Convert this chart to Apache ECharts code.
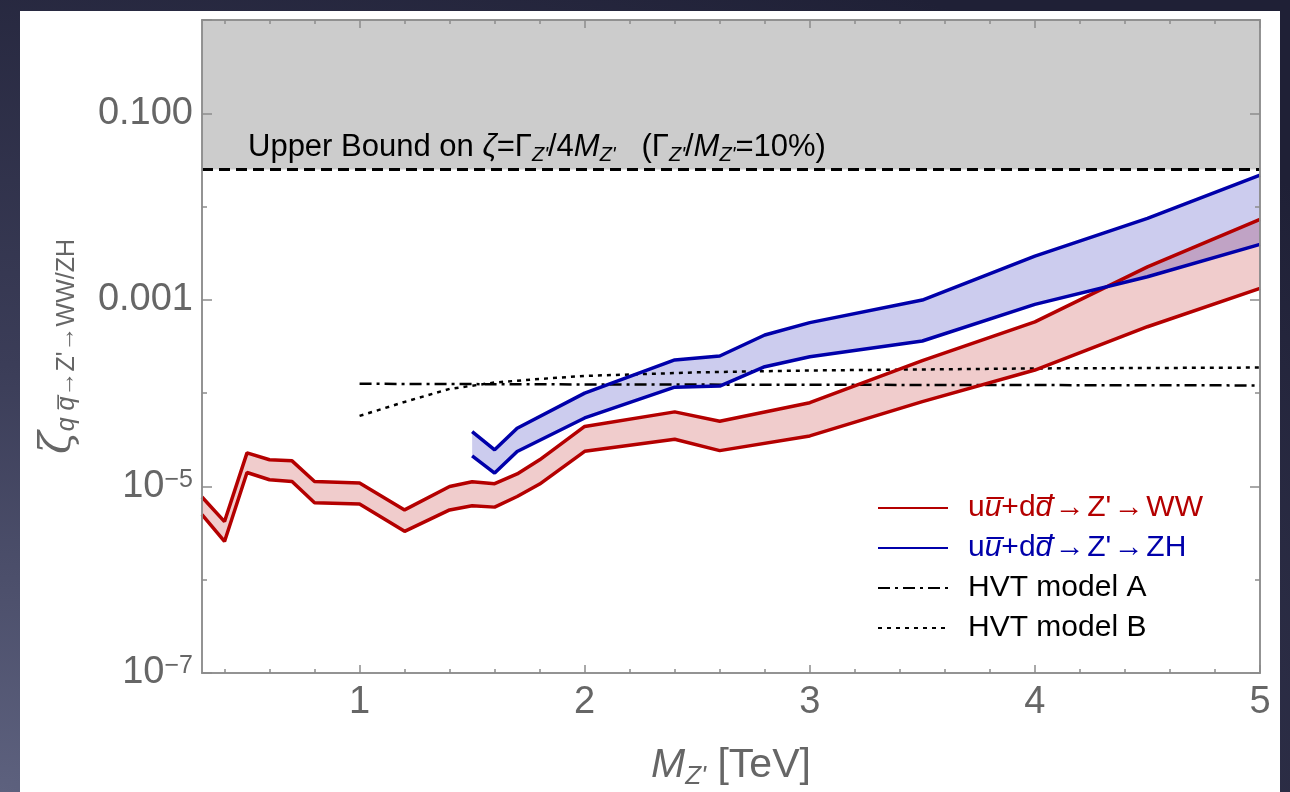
<!DOCTYPE html>
<html><head><meta charset="utf-8">
<script src="https://cdn.jsdelivr.net/npm/echarts@6/dist/echarts.min.js"></script>
<style>
html,body{margin:0;padding:0;width:1290px;height:792px;overflow:hidden;
background: radial-gradient(ellipse 130% 120% at 0% 100%, #5d617e 0%, #3b3d58 45%, #1f2036 100%);}
#chart{position:absolute;left:0;top:0;width:1290px;height:792px;}
</style></head><body><div id="chart"></div>
<script>
// ---- data ----
const massWW  = [0.3, 0.4, 0.5, 0.6, 0.7, 0.8, 1.0, 1.2, 1.4, 1.5, 1.6, 1.7, 1.8, 2.0, 2.4, 2.6, 3.0, 3.5, 4.0, 4.5, 5.0];
const wwUpper = [7.7e-6, 4.2e-6, 2.29e-5, 1.93e-5, 1.88e-5, 1.13e-5, 1.09e-5, 5.6e-6, 1.0e-5, 1.12e-5, 1.07e-5, 1.36e-5, 1.93e-5, 4.4e-5, 6.3e-5, 5.0e-5, 7.9e-5, 2.23e-4, 5.8e-4, 2.26e-3, 7.3e-3];
const wwLower = [5.0e-6, 2.57e-6, 1.41e-5, 1.18e-5, 1.13e-5, 6.7e-6, 6.5e-6, 3.3e-6, 5.6e-6, 6.2e-6, 6.0e-6, 7.8e-6, 1.06e-5, 2.38e-5, 3.2e-5, 2.42e-5, 3.48e-5, 8.1e-5, 1.77e-4, 5.15e-4, 1.33e-3];

const massZH  = [1.5, 1.6, 1.7, 2.0, 2.4, 2.6, 2.8, 3.0, 3.5, 4.0, 4.5, 5.0];
const zhUpper = [3.87e-5, 2.47e-5, 4.21e-5, 1.0e-4, 2.27e-4, 2.5e-4, 4.2e-4, 5.7e-4, 9.95e-4, 2.94e-3, 7.46e-3, 2.17e-2];
const zhLower = [2.13e-5, 1.39e-5, 2.37e-5, 5.42e-5, 1.16e-4, 1.19e-4, 1.92e-4, 2.46e-4, 3.62e-4, 8.95e-4, 1.77e-3, 3.93e-3];

const massA = [1.0, 2.0, 3.0, 4.0, 5.0];
const hvtA  = [1.26e-4, 1.24e-4, 1.23e-4, 1.22e-4, 1.21e-4];
const massB = [1.0, 1.2, 1.4, 1.6, 1.8, 2.0, 2.5, 3.0, 4.0, 5.0];
const hvtB  = [5.7e-5, 8.05e-5, 1.11e-4, 1.30e-4, 1.42e-4, 1.53e-4, 1.67e-4, 1.75e-4, 1.84e-4, 1.88e-4];

const boundMass = [0.3, 5.0];
const upperBound = [0.025, 0.025];
const yTop = 1;

const xMajorTicks = [1, 2, 3, 4, 5];
const xMinorTicks = [0.4, 0.6, 0.8, 1.2, 1.4, 1.6, 1.8, 2.2, 2.4, 2.6, 2.8, 3.2, 3.4, 3.6, 3.8, 4.2, 4.4, 4.6, 4.8];
const yTickLabels = {'-1': '0.100', '-3': '0.001', '-5': '{b|10}{s|−5}', '-7': '{b|10}{s|−7}'};

const legendText = {
  ww: '{t|u}{o|u̅}{t|+d}{o|d̅}{t|\u200a→\u200aZ\'\u200a→\u200aWW}',
  zh: '{t|u}{o|u̅}{t|+d}{o|d̅}{t|\u200a→\u200aZ\'\u200a→\u200aZH}',
  hvtA: '{t|HVT model A}',
  hvtB: '{t|HVT model B}'
};

// ---- styles ----
const FONT = '"Liberation Sans", Arial, sans-serif';
const RED = '#b40000', BLUE = '#0000aa';
const AXIS = '#8c8c8c', LABEL = '#666666';

function pairs(xs, ys) { return xs.map((x, i) => [x, ys[i]]); }

function bandRender(xs, lo, hi, color) {
  return function (params, api) {
    if (params.dataIndex !== 0) return null;
    const pts = [];
    for (let i = 0; i < xs.length; i++) pts.push(api.coord([xs[i], hi[i]]));
    for (let i = xs.length - 1; i >= 0; i--) pts.push(api.coord([xs[i], lo[i]]));
    return { type: 'polygon', shape: { points: pts }, style: { fill: color } };
  };
}

function xAx(pos, ticks, len, withLabel) {
  const a = {
    type: 'value', min: 0.3, max: 5, position: pos, gridIndex: 0, z: 10,
    axisLine: { show: true, onZero: false, lineStyle: { color: AXIS, width: 1.5 } },
    axisTick: { show: true, inside: true, length: len, customValues: ticks, lineStyle: { color: AXIS, width: 1.5 } },
    axisLabel: { show: false },
    splitLine: { show: false }
  };
  if (withLabel) {
    a.axisLabel = { show: true, customValues: xMajorTicks, color: LABEL, fontSize: 38, fontFamily: FONT, margin: 11,
      formatter: v => String(Math.round(v)) };
    a.name = '{m|M}{s|Z\'}{t| [TeV]}';
    a.nameLocation = 'middle';
    a.nameGap = 72;
    a.nameTextStyle = { color: LABEL, fontFamily: FONT, rich: {
      m: { fontSize: 41, fontStyle: 'italic', fontFamily: FONT, color: LABEL },
      s: { fontSize: 26, fontStyle: 'italic', fontFamily: FONT, color: LABEL, verticalAlign: 'bottom', padding: [0, 0, -4, 0] },
      t: { fontSize: 41, fontFamily: FONT, color: LABEL }
    }};
  }
  return a;
}

function yAx(pos, interval, len, withLabel) {
  const a = {
    type: 'log', logBase: 10, min: 1e-7, max: yTop, interval: interval, position: pos, gridIndex: 0, z: 10,
    axisLine: { show: true, lineStyle: { color: AXIS, width: 1.5 } },
    axisTick: { show: true, inside: true, length: len, lineStyle: { color: AXIS, width: 1.5 } },
    axisLabel: { show: false },
    splitLine: { show: false }, minorTick: { show: false }
  };
  if (withLabel) {
    a.axisLabel = { show: true, color: LABEL, fontSize: 38, fontFamily: FONT, margin: 9,
      formatter: v => yTickLabels[String(Math.round(Math.log10(v)))] || '',
      rich: {
        b: { fontSize: 38, fontFamily: FONT, color: LABEL },
        s: { fontSize: 25, fontFamily: FONT, color: LABEL, verticalAlign: 'top', padding: [0, 0, 12, 0] }
      } };
    a.name = '{z|ζ}{q|q q̅}{s|→Z\'→WW/ZH}';
    a.nameLocation = 'middle';
    a.nameRotate = 90;
    a.nameGap = 122;
    a.nameTextStyle = { color: LABEL, fontFamily: FONT, rich: {
      z: { fontSize: 42, fontStyle: 'italic', fontFamily: '"DejaVu Serif", serif', color: LABEL },
      q: { fontSize: 25, fontStyle: 'italic', fontFamily: FONT, color: LABEL, verticalAlign: 'bottom' },
      s: { fontSize: 25, fontFamily: FONT, color: LABEL, verticalAlign: 'bottom' }
    }};
  }
  return a;
}

const chart = echarts.init(document.getElementById('chart'), null, { renderer: 'canvas' });

const option = {
  backgroundColor: 'transparent',
  animation: false,
  graphic: [{ type: 'rect', shape: { x: 20, y: 11, width: 1260, height: 800 }, style: { fill: '#ffffff' }, z: -10, silent: true }],
  grid: { left: 202, top: 20, right: 30, bottom: 119, containLabel: false, outerBoundsMode: 'none' },
  xAxis: [
    xAx('bottom', xMajorTicks, 8, true),
    xAx('bottom', xMinorTicks, 4, false),
    xAx('top', xMajorTicks, 8, false),
    xAx('top', xMinorTicks, 4, false)
  ],
  yAxis: [
    yAx('left', 2, 10, true),
    yAx('left', 1, 5, false),
    yAx('right', 2, 10, false),
    yAx('right', 1, 5, false)
  ],
  legend: {
    orient: 'vertical', left: 872, top: 488, itemWidth: 70, itemHeight: 14, itemGap: 10,
    selectedMode: false,
    itemStyle: { opacity: 0, color: 'rgba(0,0,0,0)', borderWidth: 0 },
    formatter: name => legendText[name],
    textStyle: { fontFamily: FONT, fontSize: 30, lineHeight: 30, padding: [0, 0, 0, 15],
      rich: {
        t: { fontSize: 30, fontFamily: FONT },
        o: { fontSize: 30, fontFamily: FONT, fontStyle: 'italic' }
      } },
    data: [
      { name: 'ww', textStyle: { color: RED } },
      { name: 'zh', textStyle: { color: BLUE } },
      { name: 'hvtA', textStyle: { color: '#000' } },
      { name: 'hvtB', textStyle: { color: '#000' } }
    ]
  },
  series: [
    {
      name: 'bound', type: 'line', data: pairs(boundMass, upperBound), symbol: 'none', z: 4,
      lineStyle: { color: '#000', width: 3, type: [11, 6] },
      markArea: {
        silent: true,
        itemStyle: { color: '#cccccc' },
        label: {
          show: true, position: [46, 127], align: 'left', verticalAlign: 'middle',
          color: '#000', fontFamily: FONT, fontSize: 31,
          formatter: '{t|Upper Bound on }{i|ζ}{t|=Γ}{s|Z\'}{t|/4}{i|M}{s|Z\'}{t|   (Γ}{s|Z\'}{t|/}{i|M}{s|Z\'}{t|=10%)}',
          rich: {
            t: { fontSize: 31, fontFamily: FONT, color: '#000' },
            i: { fontSize: 31, fontFamily: FONT, fontStyle: 'italic', color: '#000' },
            s: { fontSize: 20, fontFamily: FONT, fontStyle: 'italic', color: '#000', verticalAlign: 'bottom', padding: [0, 0, -3, 0] }
          }
        },
        data: [[{ yAxis: upperBound[0] }, { yAxis: yTop }]]
      }
    },
    {
      name: 'wwBand', type: 'custom', clip: true, z: 2, silent: true,
      renderItem: bandRender(massWW, wwLower, wwUpper, 'rgba(180,0,0,0.2)'),
      data: massWW.map((x, i) => [x, wwLower[i], wwUpper[i]]),
      encode: { x: 0, y: [1, 2] }
    },
    {
      name: 'zhBand', type: 'custom', clip: true, z: 2, silent: true,
      renderItem: bandRender(massZH, zhLower, zhUpper, 'rgba(0,0,170,0.2)'),
      data: massZH.map((x, i) => [x, zhLower[i], zhUpper[i]]),
      encode: { x: 0, y: [1, 2] }
    },
    { name: 'ww', type: 'line', data: pairs(massWW, wwUpper), symbol: 'none', z: 5, lineStyle: { color: RED, width: 3.5 }, itemStyle: { color: RED } },
    { name: 'ww', type: 'line', data: pairs(massWW, wwLower), symbol: 'none', z: 5, lineStyle: { color: RED, width: 3.5 }, itemStyle: { color: RED } },
    { name: 'zh', type: 'line', data: pairs(massZH, zhUpper), symbol: 'none', z: 5, lineStyle: { color: BLUE, width: 3.5 }, itemStyle: { color: BLUE } },
    { name: 'zh', type: 'line', data: pairs(massZH, zhLower), symbol: 'none', z: 5, lineStyle: { color: BLUE, width: 3.5 }, itemStyle: { color: BLUE } },
    { name: 'hvtA', type: 'line', data: pairs(massA, hvtA), symbol: 'none', z: 4, lineStyle: { color: '#000', width: 2.5, type: [12, 5, 3, 5] }, itemStyle: { color: '#000' } },
    { name: 'hvtB', type: 'line', data: pairs(massB, hvtB), symbol: 'none', z: 4, lineStyle: { color: '#000', width: 2.5, type: [4, 5] }, itemStyle: { color: '#000' } }
  ]
};
chart.setOption(option);
</script></body></html>
